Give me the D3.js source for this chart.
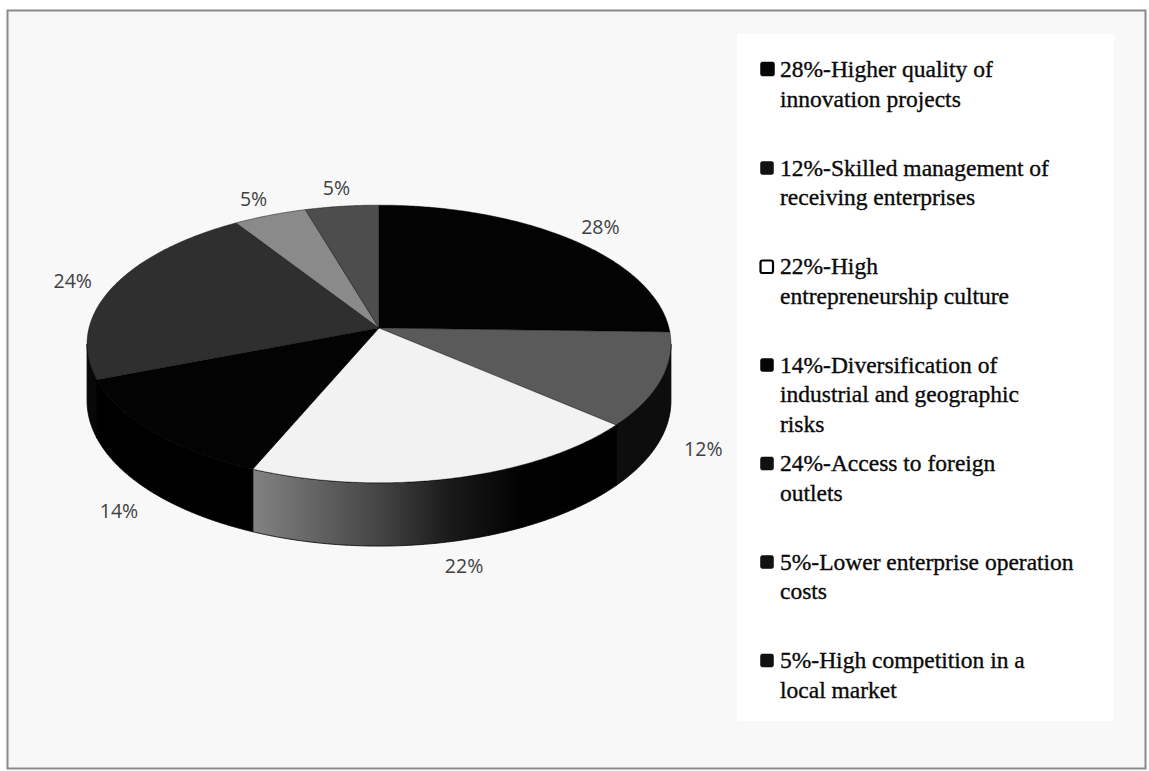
<!DOCTYPE html>
<html>
<head>
<meta charset="utf-8">
<script src="https://cdn.jsdelivr.net/npm/d3@7"></script>
<style>
  html, body { margin: 0; padding: 0; background: #ffffff; }
  svg { display: block; }
</style>
</head>
<body>
<svg id="chart" width="1149" height="771"></svg>
<script>
// Slice values and the labels printed next to each slice
const values = [28, 12, 22, 14, 24, 5, 5];
const valueLabels = ["28%", "12%", "22%", "14%", "24%", "5%", "5%"];

// Legend entries, already broken into lines
const legendLines = [
  ["28%-Higher quality of", "innovation projects"],
  ["12%-Skilled management of", "receiving enterprises"],
  ["22%-High", "entrepreneurship culture"],
  ["14%-Diversification of", "industrial and geographic", "risks"],
  ["24%-Access to foreign", "outlets"],
  ["5%-Lower enterprise operation", "costs"],
  ["5%-High competition in a", "local market"]
];

// Fill colours for the top faces and the side walls
const topColors  = ["#030303", "#5a5a5a", "#f2f2f2", "#030303", "#2f2f2f", "#8a8a8a", "#4d4d4d"];
const wallColors = ["#000000", "#0d0d0d", "url(#wallGrad)", "#000000", "#080808", "#000000", "#000000"];
const markerColors = ["#050505", "#111111", "#ffffff", "#050505", "#111111", "#111111", "#111111"];

const svg = d3.select("#chart");

// Outer frame
svg.append("rect")
  .attr("x", 7.5).attr("y", 10.5).attr("width", 1138).attr("height", 758)
  .attr("fill", "#f8f8f8").attr("stroke", "#8a8a8a").attr("stroke-width", 2);

// --- 3D pie -------------------------------------------------------------
// Perspective view of a tilted disc: angle a is clockwise from the back.
const view = { cx: 379, cy: 328, rx: 290, ry: 137, k: 0.115, h: 56 };

function project(a, r = 1, drop = 0) {
  const u = Math.sin(a), v = Math.cos(a);
  const s = 1 / (1 + view.k * v);
  return [view.cx + view.rx * r * u * s, view.cy - view.ry * r * v * s + drop * s];
}
function rim(a0, a1, drop = 0) {
  const n = Math.max(2, Math.ceil((a1 - a0) / 0.01));
  return d3.range(n + 1).map(i => project(a0 + (a1 - a0) * i / n, 1, drop));
}

const arcs = d3.pie().sort(null).value(d => d)(values);
const line = d3.line();

// Visible (front-facing) part of the cylinder wall
const wallFrom = Math.acos(-view.k);
const wallTo = 2 * Math.PI - wallFrom;

// Shaded gradient on the light slice's wall
const lightArc = arcs[2];
const gx0 = project(Math.min(lightArc.endAngle, wallTo))[0];
const gx1 = project(Math.max(lightArc.startAngle, wallFrom))[0];
const defs = svg.append("defs");
const grad = defs.append("linearGradient")
  .attr("id", "wallGrad").attr("gradientUnits", "userSpaceOnUse")
  .attr("x1", gx0).attr("x2", gx1).attr("y1", 0).attr("y2", 0);
[[0, "#828282"], [0.13, "#6b6b6b"], [0.35, "#444444"], [0.54, "#1a1a1a"], [0.74, "#020202"], [1, "#000000"]]
  .forEach(([o, c]) => grad.append("stop").attr("offset", o).attr("stop-color", c));

const pieG = svg.append("g");

// Side walls first
arcs.forEach((d, i) => {
  const a0 = Math.max(d.startAngle, wallFrom);
  const a1 = Math.min(d.endAngle, wallTo);
  if (a1 <= a0) return;
  const pts = rim(a0, a1, 0).concat(rim(a0, a1, view.h).reverse());
  pieG.append("path")
    .attr("d", line(pts) + "Z")
    .attr("fill", wallColors[i])
    .attr("stroke", "#000").attr("stroke-width", 0.8).attr("stroke-linejoin", "round");
});

// Top faces
arcs.forEach((d, i) => {
  const pts = [[view.cx, view.cy]].concat(rim(d.startAngle, d.endAngle, 0));
  pieG.append("path")
    .attr("d", line(pts) + "Z")
    .attr("fill", topColors[i])
    .attr("stroke", "rgba(0,0,0,0.55)").attr("stroke-width", 0.8).attr("stroke-linejoin", "round");
});

// Value labels outside each slice
arcs.forEach((d, i) => {
  const mid = (d.startAngle + d.endAngle) / 2;
  let [x, y] = project(mid, 1.15);
  const v = Math.cos(mid);
  if (v < 0) y += view.h / (1 + view.k * v) + 2;
  svg.append("text")
    .attr("x", x).attr("y", y)
    .attr("text-anchor", "middle").attr("dominant-baseline", "central")
    .attr("font-family", "'Open Sans', 'Liberation Sans', sans-serif")
    .attr("font-size", 19.5).attr("fill", "#404040")
    .text(valueLabels[i]);
});

// --- Legend -------------------------------------------------------------
const legend = svg.append("g");
legend.append("rect")
  .attr("x", 737).attr("y", 34).attr("width", 377).attr("height", 687)
  .attr("fill", "#ffffff");

const firstBaseline = 77, slot = 98.5, lineGap = 29.5;
legendLines.forEach((lines, i) => {
  const by = firstBaseline + i * slot;
  const size = i === 0 ? 14 : (i === 2 ? 12.5 : 13);
  legend.append("rect")
    .attr("x", 760.5).attr("y", by - size - 1)
    .attr("width", size).attr("height", size)
    .attr("rx", 2)
    .attr("fill", markerColors[i])
    .attr("stroke", "#000").attr("stroke-width", i === 2 ? 2.2 : 0.5);
  const t = legend.append("text")
    .attr("font-family", "'Liberation Serif', 'Times New Roman', serif")
    .attr("font-size", 23.5).attr("fill", "#0a0a0a")
    .attr("stroke", "#0a0a0a").attr("stroke-width", 0.35);
  lines.forEach((s, j) => {
    t.append("tspan").attr("x", 780).attr("y", by + j * lineGap).text(s);
  });
});
</script>
</body>
</html>
